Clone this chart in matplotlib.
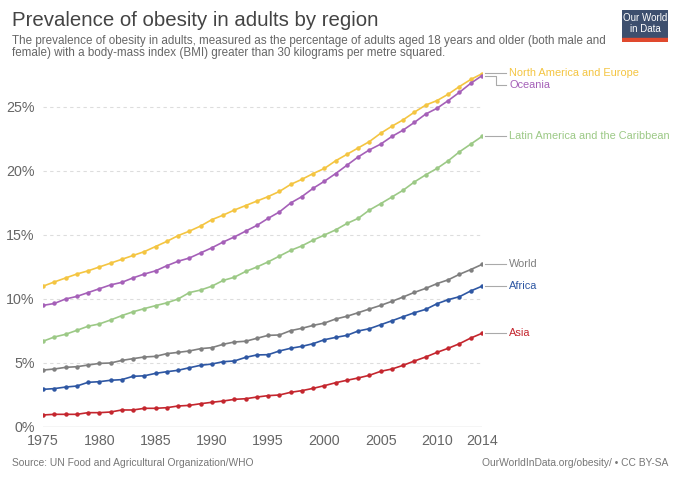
import matplotlib.pyplot as plt
import numpy as np

years = list(range(1975, 2015))

na_europe = [11.0, 11.33, 11.64, 11.95, 12.2, 12.5, 12.8, 13.1, 13.4, 13.7,
             14.1, 14.5, 14.95, 15.3, 15.7, 16.2, 16.55, 16.95, 17.3, 17.65,
             18.0, 18.4, 18.95, 19.35, 19.8, 20.2, 20.8, 21.3, 21.8, 22.3,
             22.95, 23.5, 24.0, 24.6, 25.15, 25.5, 26.0, 26.6, 27.15, 27.6]
oceania = [9.5, 9.65, 10.0, 10.2, 10.5, 10.8, 11.1, 11.3, 11.65, 11.95,
           12.2, 12.6, 12.95, 13.2, 13.6, 14.0, 14.45, 14.85, 15.3, 15.75,
           16.3, 16.8, 17.5, 18.0, 18.65, 19.2, 19.8, 20.45, 21.1, 21.65,
           22.1, 22.7, 23.2, 23.8, 24.45, 24.9, 25.5, 26.15, 26.85, 27.45]
latin_america = [6.7, 7.03, 7.24, 7.55, 7.87, 8.05, 8.36, 8.7, 9.0, 9.25,
                 9.48, 9.7, 10.0, 10.5, 10.7, 11.0, 11.45, 11.7, 12.15, 12.5,
                 12.9, 13.35, 13.8, 14.15, 14.6, 15.0, 15.4, 15.9, 16.3, 16.95,
                 17.45, 17.97, 18.5, 19.15, 19.7, 20.2, 20.8, 21.5, 22.1, 22.7]
world = [4.45, 4.53, 4.66, 4.71, 4.84, 4.97, 5.0, 5.2, 5.34, 5.47,
         5.52, 5.73, 5.83, 5.94, 6.12, 6.2, 6.46, 6.64, 6.7, 6.93,
         7.16, 7.19, 7.53, 7.71, 7.94, 8.12, 8.44, 8.65, 8.93, 9.22,
         9.5, 9.82, 10.16, 10.52, 10.83, 11.2, 11.5, 11.93, 12.3, 12.7]
africa = [2.94, 3.0, 3.12, 3.2, 3.49, 3.54, 3.65, 3.7, 3.96, 4.0,
          4.19, 4.32, 4.43, 4.63, 4.82, 4.92, 5.1, 5.16, 5.44, 5.63,
          5.65, 5.94, 6.15, 6.3, 6.51, 6.82, 7.0, 7.16, 7.5, 7.68,
          7.99, 8.3, 8.62, 8.93, 9.19, 9.63, 9.95, 10.18, 10.63, 11.0]
asia = [0.94, 0.99, 0.99, 0.99, 1.12, 1.12, 1.17, 1.33, 1.33, 1.46,
        1.46, 1.51, 1.64, 1.69, 1.82, 1.93, 2.03, 2.16, 2.21, 2.34,
        2.45, 2.5, 2.71, 2.84, 3.02, 3.23, 3.46, 3.65, 3.83, 4.04,
        4.35, 4.53, 4.82, 5.16, 5.47, 5.83, 6.15, 6.51, 6.95, 7.32]

series = [
    ("North America and Europe", na_europe, "#F4C542"),
    ("Oceania", oceania, "#A560B8"),
    ("Latin America and the Caribbean", latin_america, "#9CC986"),
    ("World", world, "#7F7F7F"),
    ("Africa", africa, "#2E57A3"),
    ("Asia", asia, "#C4262E"),
]
# label y positions (data units) where labels would overlap
label_y = {"North America and Europe": 27.65, "Oceania": 26.75}

plt.rcParams['font.family'] = ['Liberation Sans', 'DejaVu Sans']

fig = plt.figure(figsize=(6.8, 4.8), dpi=100)
ax = fig.add_axes([43 / 680, 1 - 427 / 480, (482 - 43) / 680, (427 - 68.6) / 480])

for name, vals, col in series:
    ax.plot(years, vals, color=col, lw=1.2, marker='o', ms=2.2, zorder=3)
    end = vals[-1]
    ly = label_y.get(name, end)
    ax.annotate(name, xy=(2014, end), xycoords='data',
                xytext=(2016.4, ly), textcoords='data',
                color=col, fontsize=7.9, va='center', ha='left',
                annotation_clip=False)
    if name == "Oceania":
        ax.plot([2014.3, 2015.2, 2015.2, 2016.1], [end, end, ly, ly],
                color='#AAAAAA', lw=0.8, clip_on=False)
    else:
        ax.plot([2014.3, 2016.1], [ly, ly], color='#AAAAAA', lw=0.8,
                clip_on=False)

ax.set_xlim(1975, 2014)
ax.set_ylim(0, 28)
ax.set_yticks([0, 5, 10, 15, 20, 25])
ax.set_yticklabels(['0%', '5%', '10%', '15%', '20%', '25%'])
ax.set_xticks([1975, 1980, 1985, 1990, 1995, 2000, 2005, 2010, 2014])
for v in [5, 10, 15, 20, 25]:
    ax.axhline(v, color='#DDDDDD', lw=0.8, ls=(0, (3, 3)), zorder=1)
ax.axhline(0, color='#CCCCCC', lw=1, zorder=2)
for s in ax.spines.values():
    s.set_visible(False)
ax.tick_params(length=0, labelsize=10.3, colors='#666666', pad=5)
ax.tick_params(axis='y', pad=6)

fig.text(12 / 680, 1 - 21 / 480, "Prevalence of obesity in adults by region",
         fontsize=14.7, color='#444444', va='center', ha='left')
fig.text(12 / 680, 1 - 47 / 480,
         "The prevalence of obesity in adults, measured as the percentage of adults aged 18 years and older (both male and\n"
         "female) with a body-mass index (BMI) greater than 30 kilograms per metre squared.",
         fontsize=8.4, color='#666666', va='center', ha='left', linespacing=1.1)
fig.text(12 / 680, 1 - 463 / 480, "Source: UN Food and Agricultural Organization/WHO",
         fontsize=7.4, color='#777777', va='center', ha='left')
fig.text(668 / 680, 1 - 463 / 480, "OurWorldInData.org/obesity/ \u2022 CC BY-SA",
         fontsize=7.4, color='#777777', va='center', ha='right')

# logo
logo = fig.add_axes([622 / 680, 1 - 42 / 480, 46 / 680, 32 / 480])
logo.set_xlim(0, 1)
logo.set_ylim(0, 1)
logo.axis('off')
logo.add_patch(plt.Rectangle((0, 0.12), 1, 0.88, color='#3D4F6E'))
logo.add_patch(plt.Rectangle((0, 0), 1, 0.12, color='#E0492E'))
logo.text(0.5, 0.76, "Our World", color='white', fontsize=7.0, ha='center',
          va='center')
logo.text(0.5, 0.42, "in Data", color='white', fontsize=7.0, ha='center',
          va='center')

fig.savefig('out.png', dpi=100)
